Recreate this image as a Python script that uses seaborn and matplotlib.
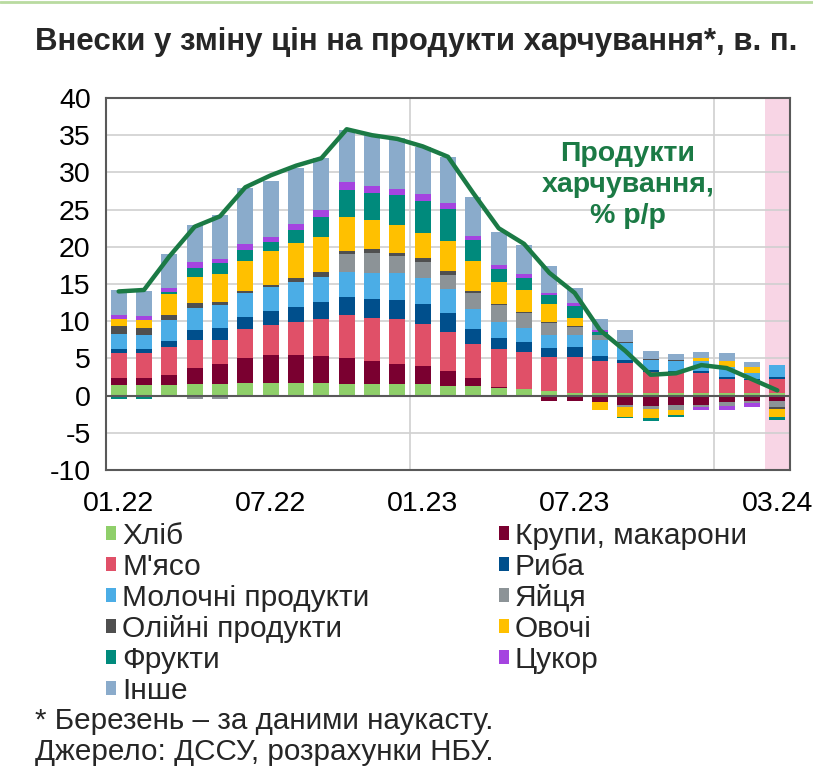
import numpy as np
import pandas as pd
import matplotlib
matplotlib.use("Agg")
import matplotlib.pyplot as plt
from matplotlib.patches import Patch
import seaborn as sns

# months 01.22 .. 03.24
months = ["01.22", "02.22", "03.22", "04.22", "05.22", "06.22", "07.22", "08.22", "09.22",
          "10.22", "11.22", "12.22", "01.23", "02.23", "03.23", "04.23", "05.23", "06.23",
          "07.23", "08.23", "09.23", "10.23", "11.23", "12.23", "01.24", "02.24", "03.24"]
tick_labels = ["01.22", "07.22", "01.23", "07.23", "03.24"]

categories = ["Хліб", "Крупи, макарони", "М'ясо", "Риба", "Молочні продукти", "Яйця",
              "Олійні продукти", "Овочі", "Фрукти", "Цукор", "Інше"]
colors = ["#8fcf6a", "#7a0030", "#e05068", "#004f8c", "#4bade6", "#8c9397",
          "#4f4f4f", "#ffc000", "#008a7c", "#a544e0", "#8aabcb"]

bread = [1.4, 1.4, 1.4, 1.5, 1.6, 1.7, 1.7, 1.7, 1.7, 1.6, 1.5, 1.5, 1.5, 1.35, 1.25, 1.0, 0.9, 0.6,
         0.3, 0.3, 0.3, 0.3, 0.4, 0.4, 0.3, 0.3, 0.3]
cereals = [0.9, 0.9, 1.4, 2.2, 2.6, 3.3, 3.7, 3.7, 3.6, 3.5, 3.1, 2.7, 2.5, 1.9, 1.1, 0.2, -0.1, -0.75,
           -0.75, -0.9, -1.2, -1.35, -1.2, -1.2, -0.9, -0.75, -0.75]
meat = [3.4, 3.4, 3.7, 3.8, 3.3, 3.9, 4.1, 4.5, 5.0, 5.7, 5.8, 6.1, 5.6, 5.3, 4.6, 5.0, 4.9, 4.6,
        4.9, 4.3, 4.05, 2.85, 2.7, 2.7, 1.95, 1.8, 1.9]
fish = [0.5, 0.5, 0.9, 1.3, 1.6, 1.6, 1.9, 2.0, 2.3, 2.5, 2.6, 2.6, 2.7, 2.6, 2.0, 1.5, 1.35, 1.2,
        1.3, 0.7, 0.45, 0.3, 0.2, 0.2, 0.2, 0.1, 0.35]
dairy = [2.1, 2.0, 2.7, 3.0, 3.1, 3.3, 3.2, 3.4, 3.3, 3.3, 3.5, 3.6, 3.5, 3.2, 2.7, 2.15, 1.9, 1.8,
         1.7, 2.2, 2.25, 1.35, 1.35, 1.35, 1.35, 0.9, 1.6]
eggs = [0, 0, 0, -0.4, -0.5, 0, 0, 0, 0, 2.4, 2.7, 2.3, 2.2, 1.9, 2.1, 2.3, 2.0, 1.5,
        1.0, 0.6, -0.3, -0.5, -0.7, -0.3, -0.55, -0.3, -0.75]
oils = [1.0, 0.9, 0.8, 0.6, 0.4, 0.3, 0.3, 0.45, 0.7, 0.45, 0.45, 0.4, 0.45, 0.5, 0.3, 0.2, 0.2, 0.2,
        0.2, 0.1, 0.1, 0.1, 0.1, 0, 0, 0, -0.3]
vegetables = [1.0, 1.1, 2.7, 3.5, 3.8, 4.0, 4.6, 4.7, 4.7, 4.6, 4.0, 3.7, 3.4, 4.0, 4.0, 2.9, 3.0, 2.4,
              1.0, -1.0, -1.35, -1.1, -0.7, 0.45, 0.9, 0.7, -1.1]
fruits = [-0.4, -0.5, 0.3, 1.3, 1.4, 1.5, 1.1, 1.8, 2.7, 3.6, 3.6, 4.0, 4.3, 4.3, 2.8, 1.7, 1.5, 1.2,
          1.6, 0.4, -0.2, -0.45, -0.3, 0, 0, 0, -0.35]
sugar = [0.6, 0.5, 0.6, 0.7, 0.6, 0.8, 0.7, 0.8, 0.9, 1.0, 0.9, 0.9, 1.0, 0.85, 0.6, 0.6, 0.6, 0.35,
         0.4, 0.2, 0, 0, 0, -0.45, -0.45, -0.45, 0]
other = [3.3, 3.4, 4.5, 5.0, 5.9, 7.5, 7.6, 7.6, 7.1, 7.0, 7.0, 6.8, 6.2, 6.2, 5.3, 4.5, 3.9, 3.6,
         2.0, 1.5, 1.7, 1.1, 0.8, 0.8, 1.0, 0.7, 0]

food_yoy = [14.0, 14.2, 18.7, 22.7, 24.1, 28.0, 29.6, 30.9, 31.9, 35.8, 35.0, 34.5, 33.5, 32.1,
            27.2, 22.5, 20.4, 16.5, 13.8, 8.8, 6.0, 2.8, 3.0, 4.1, 3.7, 2.2, 0.7]

series = [bread, cereals, meat, fish, dairy, eggs, oils, vegetables, fruits, sugar, other]

sns.set_theme(style="white")
plt.rcParams["font.family"] = ["Liberation Sans", "DejaVu Sans"]
plt.rcParams["axes.unicode_minus"] = False

fig = plt.figure(figsize=(8.13, 7.67), dpi=100)
ax = fig.add_axes([106 / 813, 1 - 470 / 767, 684 / 813, 372 / 767])

x = np.arange(len(months))
pos_bottom = np.zeros(len(months))
neg_bottom = np.zeros(len(months))
for name, vals, c in zip(categories, series, colors):
    v = np.array(vals, dtype=float)
    pos = np.where(v > 0, v, 0)
    neg = np.where(v < 0, v, 0)
    ax.bar(x, pos, width=0.63, bottom=pos_bottom, color=c, linewidth=0, zorder=3)
    ax.bar(x, neg, width=0.63, bottom=neg_bottom, color=c, linewidth=0, zorder=3)
    pos_bottom += pos
    neg_bottom += neg

df_line = pd.DataFrame({"x": x, "y": food_yoy})
sns.lineplot(data=df_line, x="x", y="y", color="#1b7a45", linewidth=3.2, ax=ax, zorder=5)

ax.axvspan(25.5, 26.5, color="#f8d5e5", zorder=0, linewidth=0)
ax.axhline(0, color="#595959", linewidth=1.5, zorder=4)
for xv in [11.5, 23.5]:
    ax.axvline(xv, color="#d0d0d0", linewidth=1.2, zorder=1)

ax.set_xlim(-0.5, 26.5)
ax.set_ylim(-10, 40)
ax.set_yticks(range(-10, 41, 5))
ax.yaxis.grid(True, color="#d0d0d0", linewidth=1.2, zorder=1)
ax.set_axisbelow(True)
ax.set_xticks([months.index(m) for m in tick_labels])
ax.set_xticklabels(tick_labels)
ax.set_xlabel("")
ax.set_ylabel("")
ax.tick_params(axis="y", labelsize=20.5, direction="in", length=5, width=1.2,
               color="#595959", pad=11, labelcolor="black")
ax.tick_params(axis="x", labelsize=20.5, length=0, pad=15, labelcolor="black")
for s in ax.spines.values():
    s.set_visible(True)
    s.set_color("#595959")
    s.set_linewidth(1.5)

ax.text(20.1, 28.3, "Продукти\nхарчування,\n% р/р", ha="center", va="center",
        fontsize=20.5, fontweight="bold", color="#1b7a45", linespacing=1.24, zorder=6)

fig.text(35 / 813, 1 - 42 / 767, "Внески у зміну цін на продукти харчування*, в. п.",
         fontsize=22.5, fontweight="bold", ha="left", va="center")

# legend, row-major like the original
order = [0, 2, 4, 6, 8, 10, 1, 3, 5, 7, 9]
handles = [Patch(facecolor=colors[i], edgecolor="none") for i in order]
labels = [categories[i] for i in order]
fig.legend(handles, labels, loc="upper left", bbox_to_anchor=(106 / 813, 1 - 522 / 767),
           ncol=2, frameon=False, fontsize=21.5, handlelength=0.34, handleheight=0.34,
           handletextpad=0.2, columnspacing=4.33, labelspacing=0.1, borderpad=0,
           borderaxespad=0)

fig.text(35 / 813, 1 - 721 / 767, "* Березень – за даними наукасту.", fontsize=21.3,
         ha="left", va="center")
fig.text(35 / 813, 1 - 752 / 767, "Джерело: ДССУ, розрахунки НБУ.", fontsize=21.3,
         ha="left", va="center")

fig.add_artist(plt.Line2D([0, 1], [1 - 1.5 / 767, 1 - 1.5 / 767], color="#b9dba0",
                          linewidth=2, transform=fig.transFigure))

fig.savefig("out.png", dpi=100)
